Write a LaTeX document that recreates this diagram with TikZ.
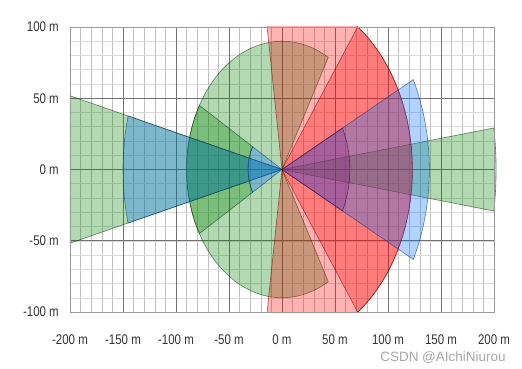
\documentclass[tikz,border=0pt]{standalone}
\usepackage{fontspec}
\setmainfont{Liberation Sans}
\definecolor{sgreen}{RGB}{0,128,0}
\definecolor{sred}{RGB}{255,0,0}
\definecolor{sblue}{RGB}{0,110,255}
\definecolor{spurple}{RGB}{128,0,128}
\begin{document}
\begin{tikzpicture}[x=1.06pt,y=1.425pt,
    minor/.style={black!25,line width=.5pt},
    major/.style={black!55,line width=.8pt},
    zone/.style={fill=#1,fill opacity=.3,draw=#1!45!black,draw opacity=.6,line width=.6pt},
    tick/.style={text=black!80,font=\fontsize{14}{14}\selectfont,inner sep=0pt}]
  \useasboundingbox (-282pt,-199.5pt) rectangle (240pt,169.5pt);
  \foreach \x in {-200,-190,...,200}
  \draw[minor] (\x,-100) -- (\x,100);
  \foreach \y in {-100,-90,...,100}
  \draw[minor,black!15] (-200,\y) -- (200,\y);
  \foreach \x in {-150,-100,...,150}
  \draw[major] (\x,-100) -- (\x,100);
  \foreach \y in {-50,0,50}
  \draw[major] (-200,\y) -- (200,\y);
  \begin{scope}
    \clip (-200,-100) rectangle (206,100);
    \draw[zone=sgreen] (0,0) -- (61:90) arc[start angle=61,end angle=299,radius=90] -- cycle;
    \draw[zone=sgreen] (150:32) -- (150:90) arc[start angle=150,end angle=210,radius=90] -- (210:32) arc[start angle=210,end angle=150,radius=32] -- cycle;
    \draw[zone=sgreen] (0,0) -- (165.5:250) arc[start angle=165.5,end angle=194.5,radius=250] -- cycle;
    \draw[zone=sgreen] (0,0) -- (-8.3:202) arc[start angle=-8.3,end angle=8.3,radius=202] -- cycle;
    \draw[zone=sred] (0,0) -- (-98:123) arc[start angle=-98,end angle=98,radius=123] -- cycle;
    \draw[zone=sred] (0,0) -- (-54.5:123) arc[start angle=-54.5,end angle=54.5,radius=123] -- cycle;
    \draw[zone=sblue] (0,0) -- (-27:139) arc[start angle=-27,end angle=27,radius=139] -- cycle;
    \draw[zone=sblue] (0,0) -- (165.5:150) arc[start angle=165.5,end angle=194.5,radius=150] -- cycle;
    \draw[zone=sblue] (0,0) -- (150:32) arc[start angle=150,end angle=210,radius=32] -- cycle;
    \draw[zone=spurple,fill opacity=.2] (0,0) -- (-27:64) arc[start angle=-27,end angle=27,radius=64] -- cycle;
  \end{scope}
  \draw[major,black!40] (-200,-100) rectangle (200,100);
  \foreach \y in {-100,-50,...,100}
  \node[tick,anchor=east,xshift=-11pt] (yl\y) at (-200,\y) {\scalebox{.82}[1]{\y\ m}};
  \foreach \x in {-200,-150,...,200}
  \node[tick,yshift=-28pt] (xl\x) at (\x,-100) {\scalebox{.82}[1]{\x\ m}};
  \node[text=black!35,font=\fontsize{13.5}{14}\selectfont,inner sep=0pt] (wm) at (161pt,-188pt) {CSDN @AIchiNiurou};
\end{tikzpicture}
\end{document}
